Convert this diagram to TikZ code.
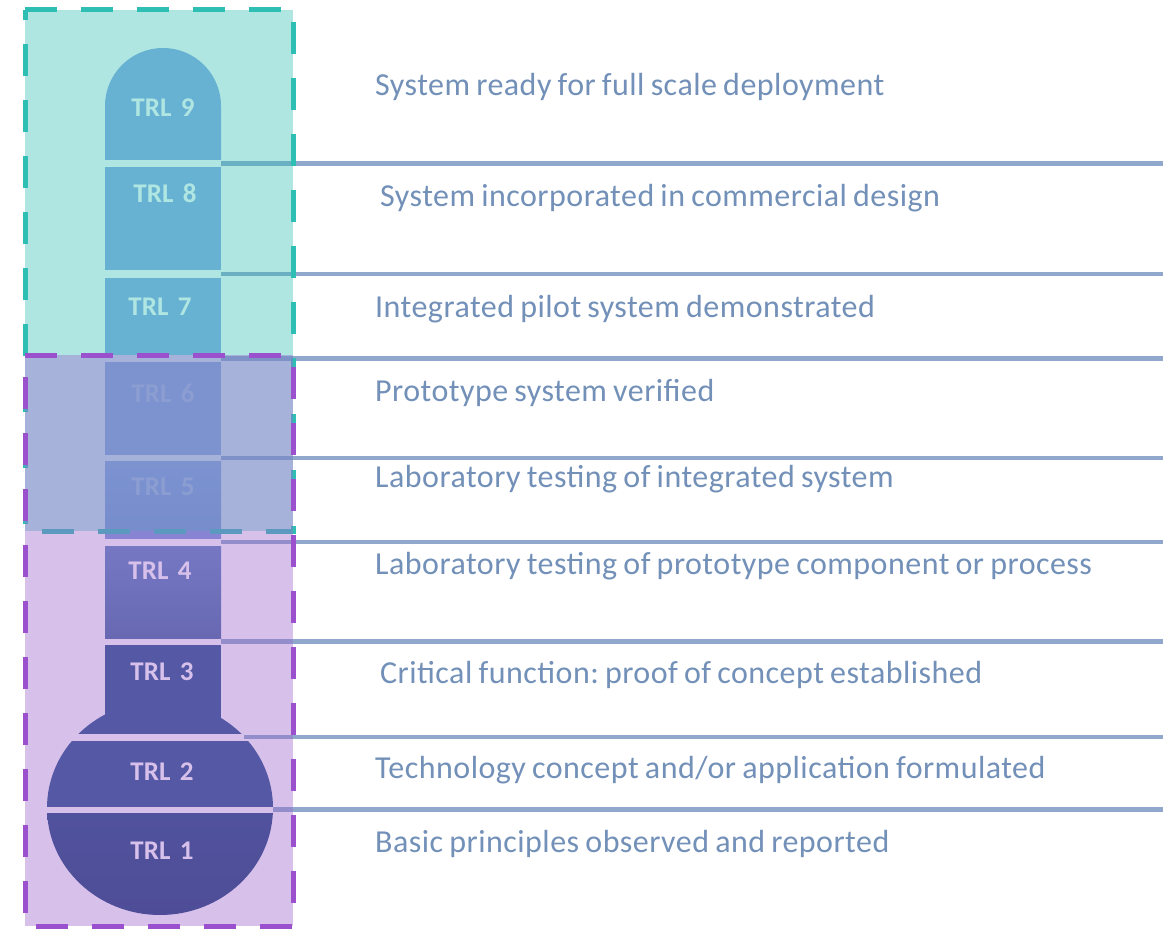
\documentclass[tikz,border=0pt]{standalone}
\usepackage{fontspec}
\setmainfont{Carlito}
\newfontfamily\descfont[WordSpace=0.8, LetterSpace=1.5]{Carlito}
\usepackage{xcolor}
\usepackage{tikz}
\usetikzlibrary{calc}
\definecolor{sepline}{HTML}{8FA8CB}
\definecolor{desctext}{HTML}{7290B8}
\definecolor{tubetop}{HTML}{8AABE6}
\definecolor{tubemid}{HTML}{7A98D6}
\definecolor{tubefour}{HTML}{5C84BD}
\definecolor{tubefourlow}{HTML}{466B9F}
\definecolor{bulb}{HTML}{254F89}
\definecolor{bulblow}{HTML}{1A3C72}
\definecolor{fadelab}{HTML}{B3C6E7}
\definecolor{tealedge}{HTML}{2FBEB4}
\definecolor{purpfill}{HTML}{9D66CF}
\definecolor{purpedge}{HTML}{9B50CD}
\tikzset{
  sep/.style={draw=sepline, line width=4.5pt},
  trl/.style={text=white, font=\fontsize{27}{30}\selectfont\bfseries, anchor=base, inner sep=0pt},
  trlfade/.style={trl, text=fadelab},
  desc/.style={text=desctext, font=\descfont\fontsize{32}{36}\selectfont\frenchspacing, anchor=base west, inner sep=0pt},
  tealbox/.style={draw=tealedge, line width=5pt, dash pattern=on 32pt off 24pt},
  purpbox/.style={draw=purpedge, line width=5pt, dash pattern=on 32pt off 24pt},
}

\begin{document}
\begin{tikzpicture}[x=1pt,y=1pt,yscale=-1]
  \path[fill=white,use as bounding box] (0,0) rectangle (1163,931);

  % separator lines
  \foreach \y/\x in {163.5/221, 274/221, 358.5/221, 458/221, 542/221, 641.5/221, 737/244, 809.5/273}
    \draw[sep] (\x,\y) -- (1163,\y);

  % thermometer
  \fill[tubetop] (105,160) -- (105,106) arc[start angle=180, end angle=360, radius=58] -- (221,160) -- cycle;
  \fill[tubetop] (105,167) rectangle (221,270);
  \fill[tubetop] (105,278) rectangle (221,355);
  \fill[tubetop] (105,362) rectangle (221,455);
  \shade[top color=tubetop, bottom color=tubemid] (105,461) rectangle (221,538);
  \shade[top color=tubefour, bottom color=tubefourlow] (105,546) rectangle (221,638);
  \fill[bulb] (105,645) rectangle (221,733);
  \begin{scope}
    \clip (0,690) rectangle (300,733);
    \fill[bulb] (160,808) ellipse[x radius=113, y radius=107];
  \end{scope}
  \begin{scope}
    \clip (0,741) rectangle (300,806);
    \fill[bulb] (160,808) ellipse[x radius=113, y radius=107];
  \end{scope}
  \begin{scope}
    \clip (0,813) rectangle (300,931);
    \shade[top color=bulb, bottom color=bulblow] (160,808) ellipse[x radius=113, y radius=107];
  \end{scope}

  \node[trl] (t9) at (163,117) {TRL\hskip0.35em 9};
  \node[trl] (t8) at (165,203) {TRL\hskip0.35em 8};
  \node[trl] (t7) at (160,315) {TRL\hskip0.35em 7};
  \node[trlfade] (t6) at (163,402) {TRL\hskip0.35em 6};
  \node[trlfade] (t5) at (163,495) {TRL\hskip0.35em 5};
  \node[trl] (t4) at (160,579) {TRL\hskip0.35em 4};
  \node[trl] (t3) at (162,680) {TRL\hskip0.35em 3};
  \node[trl] (t2) at (162,780) {TRL\hskip0.35em 2};
  \node[trl] (t1) at (162,859) {TRL\hskip0.35em 1};

  % readiness bands
  \fill[tealedge, fill opacity=0.38] (25,10) rectangle (293,531);
  \draw[tealbox] (25,10) -- (293,10) -- (293,531) -- (25,531) -- cycle;
  \fill[purpfill, fill opacity=0.4] (25,355) rectangle (293,926);
  \draw[purpbox] (25,355) -- (293,355) -- (293,926) -- (25,926) -- cycle;

  % descriptions
  \node[desc] (d9) at (375,96) {System ready for full scale deployment};
  \node[desc] (d8) at (380,207) {System incorporated in commercial design};
  \node[desc] (d7) at (375,317) {Integrated pilot system demonstrated};
  \node[desc] (d6) at (375,401) {Prototype system verified};
  \node[desc] (d5) at (375,487) {Laboratory testing of integrated system};
  \node[desc] (d4) at (375,574) {Laboratory testing of prototype component or process};
  \node[desc] (d3) at (380,683) {Critical function: proof of concept established};
  \node[desc] (d2) at (375,778) {Technology concept and/or application formulated};
  \node[desc] (d1) at (375,852) {Basic principles observed and reported};
\end{tikzpicture}
\end{document}
